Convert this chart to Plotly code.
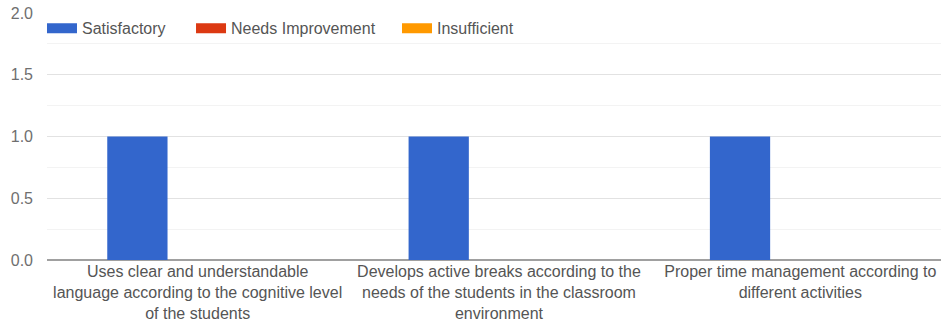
import plotly.graph_objects as go

# Criteria shown along the x axis (wrapped onto several lines)
categories = [
    "Uses clear and understandable<br>language according to the cognitive level<br>of the students",
    "Develops active breaks according to the<br>needs of the students in the classroom<br>environment",
    "Proper time management according to<br>different activities",
]

# Number of responses per rating
satisfactory = [1, 1, 1]
needs_improvement = [0, 0, 0]
insufficient = [0, 0, 0]

series_names = ["Satisfactory", "Needs Improvement", "Insufficient"]
series_values = [satisfactory, needs_improvement, insufficient]
series_colors = ["#3366cc", "#dc3912", "#ff9900"]

y_ticks = [0, 0.5, 1.0, 1.5, 2.0]
y_tick_labels = ["0.0", "0.5", "1.0", "1.5", "2.0"]

# One legend box per series so the entries can be spaced freely
legend_ids = ["legend", "legend2", "legend3"]
legend_x = [-0.0056, 0.1611, 0.3915]

fig = go.Figure()

for name, vals, color in zip(series_names, series_values, series_colors):
    fig.add_trace(go.Bar(
        x=categories, y=vals, name=name, marker_color=color,
        marker_line_width=0, showlegend=False, hoverinfo="skip",
    ))

# Legend entries drawn as wide colour swatches
for name, color, lid in zip(series_names, series_colors, legend_ids):
    fig.add_trace(go.Scatter(
        x=[None], y=[None], mode="lines", name=name, legend=lid,
        line=dict(color=color, width=13), showlegend=True,
    ))

legend_style = dict(
    orientation="h", xanchor="left", y=0.938, yanchor="middle",
    bgcolor="rgba(0,0,0,0)", font=dict(size=16, color="#555555"),
    itemclick=False, itemdoubleclick=False,
)

fig.update_layout(
    width=941, height=324,
    margin=dict(l=47, r=0, t=13, b=64),
    paper_bgcolor="white", plot_bgcolor="white",
    barmode="group", bargap=0.4, bargroupgap=0,
    font=dict(family="Liberation Sans, Arial, sans-serif", size=16, color="#555555"),
    xaxis=dict(
        type="category", range=[-0.5, 2.467],
        showgrid=False, showline=False, zeroline=False,
        tickfont=dict(size=16, color="#555555"), ticks="",
    ),
    yaxis=dict(
        range=[0, 2], tickvals=y_ticks, ticktext=y_tick_labels,
        showgrid=True, gridcolor="#e2e2e2", gridwidth=1,
        minor=dict(dtick=0.25, showgrid=True, gridcolor="#f3f3f3", gridwidth=1),
        zeroline=True, zerolinecolor="#a0a0a0", zerolinewidth=1.5,
        showline=False, ticks="", ticklabelstandoff=13,
        tickfont=dict(size=16, color="#6f6f6f"),
    ),
    showlegend=True,
)

for lid, lx in zip(legend_ids, legend_x):
    fig.update_layout({lid: dict(x=lx, **legend_style)})

fig.write_html("out.html")
